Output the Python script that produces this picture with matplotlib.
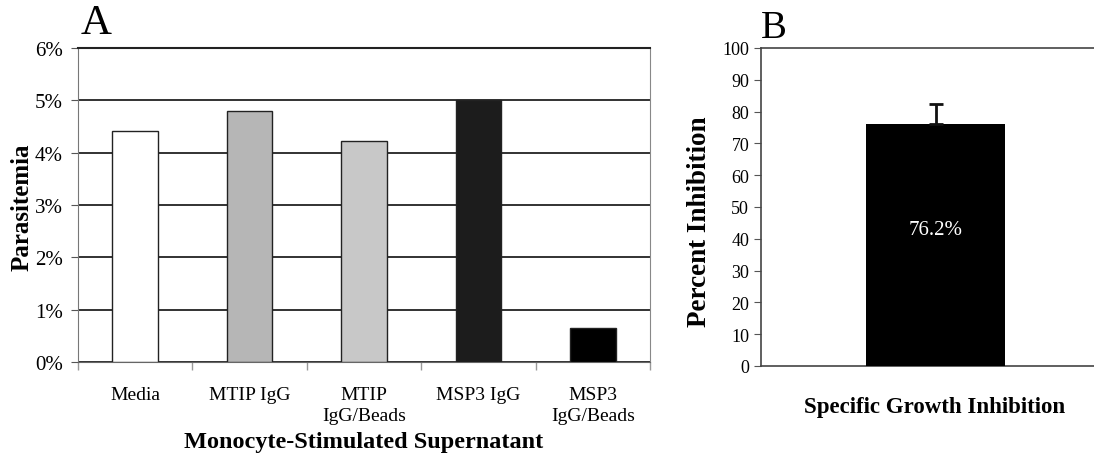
import numpy as np
import matplotlib
matplotlib.use("Agg")
import matplotlib.pyplot as plt
from matplotlib.ticker import FuncFormatter

plt.rcParams['font.family'] = ['Liberation Serif', 'DejaVu Serif']

# panel A data
groups = ["Media", "MTIP IgG", "MTIP\nIgG/Beads", "MSP3 IgG", "MSP3\nIgG/Beads"]
parasitemia = [4.42, 4.80, 4.22, 5.00, 0.65]
bar_colors = ["white", "#b6b6b6", "#c8c8c8", "#1c1c1c", "black"]

# panel B data
inhib_label = ["Specific Growth Inhibition"]
inhib_value = [76.2]
inhib_err = [6.3]

fig = plt.figure(figsize=(10.94, 4.56), dpi=100)

# ---- panel A
axA = fig.add_axes([78 / 1094, 1 - 363 / 456, 572 / 1094, 314 / 456])
x = np.arange(len(groups))
axA.set_axisbelow(True)
axA.yaxis.grid(True, color="#222222", linewidth=1.3)
axA.bar(x, parasitemia, width=0.4, color=bar_colors, edgecolor="#222222", linewidth=1.0, zorder=3)
axA.set_xlim(-0.5, len(groups) - 0.5)
axA.set_ylim(0, 6)
axA.set_yticks(np.arange(0, 7, 1))
axA.yaxis.set_major_formatter(FuncFormatter(lambda v, p: "%d%%" % v))
axA.set_xticks(np.arange(-0.5, len(groups), 1.0))
axA.set_xticklabels([])
axA.set_xticks(x, minor=True)
axA.set_xticklabels(groups, minor=True, fontsize=14, linespacing=1.35)
axA.tick_params(axis="x", which="major", length=6, color="#999999", width=1)
axA.tick_params(axis="x", which="minor", length=0, pad=17)
axA.tick_params(axis="y", length=5, color="#555555", labelsize=15, pad=6)
axA.spines["top"].set_color("#222222")
axA.spines["top"].set_linewidth(1.5)
axA.spines["right"].set_color("#888888")
axA.spines["left"].set_color("#777777")
axA.spines["bottom"].set_color("#666666")
fig.text(22 / 1094, 1 - 207 / 456, "Parasitemia", fontsize=18, fontweight="bold",
         rotation=90, ha="center", va="center")
fig.text(364 / 1094, 1 - 443 / 456, "Monocyte-Stimulated Supernatant", fontsize=17.5,
         fontweight="bold", ha="center", va="center")
fig.text(81 / 1094, 1 - 24 / 456, "A", fontsize=31, va="center", ha="left")

# ---- panel B
axB = fig.add_axes([761 / 1094, 1 - 367 / 456, 349 / 1094, 318 / 456])
axB.bar([0], inhib_value, width=0.8, color="black", zorder=3)
axB.errorbar([0], inhib_value, yerr=[[0], inhib_err], fmt="none", ecolor="#111111",
             elinewidth=2, capsize=5, capthick=2, zorder=4)
axB.text(0, 43, "%.1f%%" % inhib_value[0], color="white", ha="center", va="center", fontsize=15, zorder=5)
axB.set_xlim(-1, 1)
axB.set_ylim(0, 100)
axB.set_yticks(np.arange(0, 101, 10))
axB.set_xticks([])
axB.tick_params(axis="y", length=5, color="#555555", labelsize=13)
axB.spines["right"].set_visible(False)
for s in ["top", "left", "bottom"]:
    axB.spines[s].set_color("#444444")
    axB.spines[s].set_linewidth(1.2)
fig.text(700 / 1094, 1 - 222 / 456, "Percent Inhibition", fontsize=19.5, fontweight="bold",
         rotation=90, ha="center", va="center")
fig.text(935 / 1094, 1 - 408 / 456, inhib_label[0], fontsize=16.5, fontweight="bold",
         ha="center", va="center")
fig.text(761 / 1094, 1 - 28 / 456, "B", fontsize=28, va="center", ha="left")

fig.savefig("out.png", dpi=100)
